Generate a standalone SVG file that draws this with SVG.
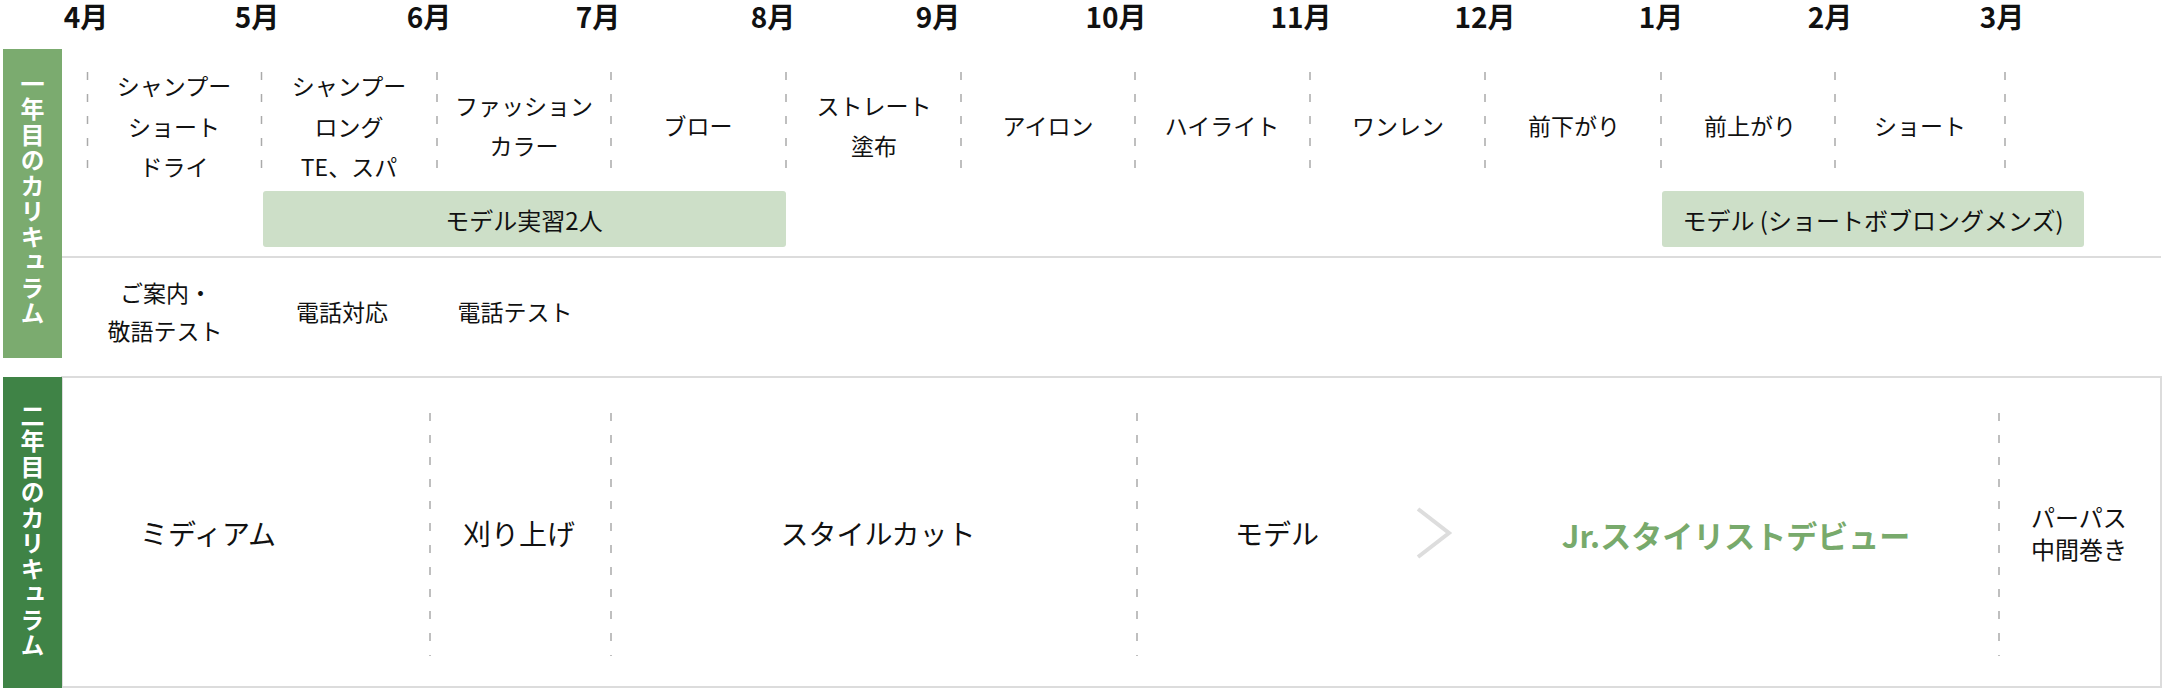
<svg xmlns="http://www.w3.org/2000/svg" width="2164" height="689" viewBox="0 0 2164 689">
<style>
text{font-family:"Noto Sans CJK JP","Noto Sans",sans-serif;fill:#111;}
.m{font-size:28px;font-weight:bold;text-anchor:middle;dominant-baseline:central;}
.c{font-size:23px;text-anchor:middle;dominant-baseline:central;}
.b{font-size:24px;text-anchor:middle;dominant-baseline:central;}
.y2{font-size:28px;text-anchor:middle;dominant-baseline:central;}
.vt{font-size:24px;font-weight:bold;fill:#fff;writing-mode:vertical-rl;text-anchor:middle;letter-spacing:1.5px;}
.dash{stroke:#aaaaaa;stroke-width:1.5;stroke-dasharray:8 14;fill:none;}
.sep{stroke:#dcdcdc;stroke-width:2;fill:none;}
.pill{fill:#cddfc8;}
</style>
<rect width="2164" height="689" fill="#fff"/>
<g id="months">
<text class="m" x="86" y="16">4月</text>
<text class="m" x="257" y="16">5月</text>
<text class="m" x="429" y="16">6月</text>
<text class="m" x="598" y="16">7月</text>
<text class="m" x="773" y="16">8月</text>
<text class="m" x="938" y="16">9月</text>
<text class="m" x="1116" y="16">10月</text>
<text class="m" x="1301" y="16">11月</text>
<text class="m" x="1485" y="16">12月</text>
<text class="m" x="1661" y="16">1月</text>
<text class="m" x="1830" y="16">2月</text>
<text class="m" x="2002" y="16">3月</text>
</g>
<g id="year1">
<rect x="3" y="49" width="59" height="309" fill="#7bab6f"/>
<text class="vt" x="32.5" y="199">一年目のカリキュラム</text>
</g>
<g id="year2">
<rect x="62" y="377" width="2099" height="310" class="sep"/>
<rect x="3" y="377" width="59" height="311" fill="#3f8346"/>
<text class="vt" x="32.5" y="531">二年目のカリキュラム</text>
</g>
<g id="grid">
<line class="sep" x1="62" y1="257" x2="2161" y2="257"/>
<line class="dash" x1="87.5" y1="72" x2="87.5" y2="180"/>
<line class="dash" x1="261.5" y1="72" x2="261.5" y2="180"/>
<line class="dash" x1="437" y1="72" x2="437" y2="180"/>
<line class="dash" x1="611" y1="72" x2="611" y2="180"/>
<line class="dash" x1="786" y1="72" x2="786" y2="180"/>
<line class="dash" x1="961" y1="72" x2="961" y2="180"/>
<line class="dash" x1="1135" y1="72" x2="1135" y2="180"/>
<line class="dash" x1="1310" y1="72" x2="1310" y2="180"/>
<line class="dash" x1="1485" y1="72" x2="1485" y2="180"/>
<line class="dash" x1="1661" y1="72" x2="1661" y2="180"/>
<line class="dash" x1="1835" y1="72" x2="1835" y2="180"/>
<line class="dash" x1="2005" y1="72" x2="2005" y2="180"/>
<line class="dash" x1="430" y1="413" x2="430" y2="656"/>
<line class="dash" x1="611" y1="413" x2="611" y2="656"/>
<line class="dash" x1="1137" y1="413" x2="1137" y2="656"/>
<line class="dash" x1="1999" y1="413" x2="1999" y2="656"/>
</g>
<g id="cell-apr"><text class="c" x="174" y="85">シャンプー</text><text class="c" x="174" y="126">ショート</text><text class="c" x="174" y="166">ドライ</text></g>
<g id="cell-may"><text class="c" x="349" y="85">シャンプー</text><text class="c" x="349" y="126">ロング</text><text class="c" x="349" y="166">TE、スパ</text></g>
<g id="cell-jun"><text class="c" x="524" y="105">ファッション</text><text class="c" x="524" y="145">カラー</text></g>
<g id="cell-jul"><text class="c" x="698" y="125">ブロー</text></g>
<g id="cell-aug"><text class="c" x="874" y="105">ストレート</text><text class="c" x="874" y="145">塗布</text></g>
<g id="cell-sep"><text class="c" x="1048" y="125">アイロン</text></g>
<g id="cell-oct"><text class="c" x="1222" y="125">ハイライト</text></g>
<g id="cell-nov"><text class="c" x="1398" y="125">ワンレン</text></g>
<g id="cell-dec"><text class="c" x="1574" y="125">前下がり</text></g>
<g id="cell-jan"><text class="c" x="1750" y="125">前上がり</text></g>
<g id="cell-feb"><text class="c" x="1920" y="125">ショート</text></g>
<g id="bar-model1"><rect class="pill" x="263" y="191" width="523" height="56" rx="3"/><text class="b" x="524" y="219">モデル実習2人</text></g>
<g id="bar-model2"><rect class="pill" x="1662" y="191" width="422" height="56" rx="3"/><text class="b" x="1873" y="219">モデル (ショートボブロングメンズ)</text></g>
<g id="row3-a"><text class="c" x="166" y="292">ご案内・</text><text class="c" x="165" y="330">敬語テスト</text></g>
<g id="row3-b"><text class="c" x="342" y="311">電話対応</text></g>
<g id="row3-c"><text class="c" x="515" y="311">電話テスト</text></g>
<g id="y2-medium"><text class="y2" x="208" y="533">ミディアム</text></g>
<g id="y2-karia"><text class="y2" x="519" y="533">刈り上げ</text></g>
<g id="y2-style"><text class="y2" x="878" y="533">スタイルカット</text></g>
<g id="y2-model"><text class="y2" x="1277" y="533">モデル</text></g>
<g id="y2-debut"><text x="1736" y="534" style="font-size:31px;font-weight:bold;fill:#78aa6c;text-anchor:middle;dominant-baseline:central;">Jr.スタイリストデビュー</text></g>
<g id="y2-perm"><text class="b" x="2079" y="516">パーパス</text><text class="b" x="2079" y="548">中間巻き</text></g>
<g id="connectors">
<polyline points="1418,509 1449,533 1418,557" fill="none" stroke="#dddddd" stroke-width="4"/>
</g>
</svg>
